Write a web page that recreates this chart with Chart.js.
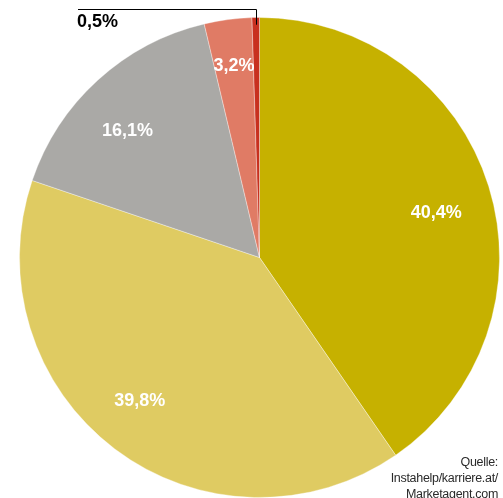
<!DOCTYPE html>
<html>
<head>
<meta charset="utf-8">
<script src="https://cdn.jsdelivr.net/npm/chart.js@4/dist/chart.umd.min.js"></script>
<style>
  html, body { margin: 0; padding: 0; background: #fff; }
  #wrap { position: relative; width: 503px; height: 498px; }
  #source {
    position: absolute; right: 5px; bottom: -4px;
    font: 12.5px "Liberation Sans", Arial, sans-serif;
    color: #2a2a2a; text-align: right; line-height: 16px;
    letter-spacing: -0.3px;
  }
</style>
</head>
<body>
<div id="wrap">
  <canvas id="pieChart" width="503" height="498"></canvas>
  <div id="source">Quelle:<br>Instahelp/karriere.at/<br>Marketagent.com</div>
</div>
<script>
// shares in percent, clockwise from 12 o'clock
let labels = ['A', 'B', 'C', 'D', 'E'];
let shares = [40.4, 39.8, 16.1, 3.2, 0.5];
let valueLabels = ['40,4%', '39,8%', '16,1%', '3,2%', '0,5%'];

let colors = ['#c6b100', '#dfcb62', '#aaa9a6', '#e07b65', '#c8301f'];

// label placement: share of radius and a small turn (degrees) off the slice middle
// null radius = drawn with a callout instead
let labelRadius = [0.76, 0.775, 0.765, 0.81, null];
let labelTurn = [3, 3, -3.7, 0, 0];

let sliceLabels = {
  id: 'sliceLabels',
  afterDatasetsDraw(chart){
    let ctx = chart.ctx;
    let arcs = chart.getDatasetMeta(0).data;
    ctx.save();
    ctx.font = 'bold 18px "Liberation Sans", Arial, sans-serif';
    ctx.textBaseline = 'middle';
    arcs.forEach((arc, i) => {
      let p = arc.getProps(['x', 'y', 'startAngle', 'endAngle', 'outerRadius'], true);
      let mid = (p.startAngle + p.endAngle) / 2;
      if(labelRadius[i] !== null){
        let r = p.outerRadius * labelRadius[i];
        let a = mid + labelTurn[i] * Math.PI / 180;
        ctx.fillStyle = '#fff';
        ctx.textAlign = 'center';
        ctx.fillText(valueLabels[i], p.x + Math.cos(a) * r, p.y + Math.sin(a) * r + 1);
      } else {
        // tiny slice: leader line up and to the left
        let r = p.outerRadius * 0.97;
        let sx = Math.round(p.x + Math.cos(mid) * r) + 0.5;
        let sy = p.y + Math.sin(mid) * r;
        ctx.strokeStyle = '#000';
        ctx.lineWidth = 1;
        ctx.beginPath();
        ctx.moveTo(sx, sy);
        ctx.lineTo(sx, 9.5);
        ctx.lineTo(78, 9.5);
        ctx.stroke();
        ctx.fillStyle = '#000';
        ctx.textAlign = 'left';
        ctx.fillText(valueLabels[i], 77, 22);
      }
    });
    ctx.restore();
  }
};

let ctx = document.getElementById('pieChart').getContext('2d');
let pieChart = new Chart(ctx, {
  type: 'pie',
  data: {
    labels: labels,
    datasets: [{
      data: shares,
      backgroundColor: colors,
      borderColor: 'rgba(255,255,255,0.35)',
      borderWidth: 1
    }]
  },
  options: {
    responsive: false,
    animation: false,
    layout: { padding: { left: 19, right: 3, top: 17, bottom: 0 } },
    plugins: {
      legend: { display: false },
      tooltip: { enabled: false }
    }
  },
  plugins: [sliceLabels]
});
</script>
</body>
</html>
